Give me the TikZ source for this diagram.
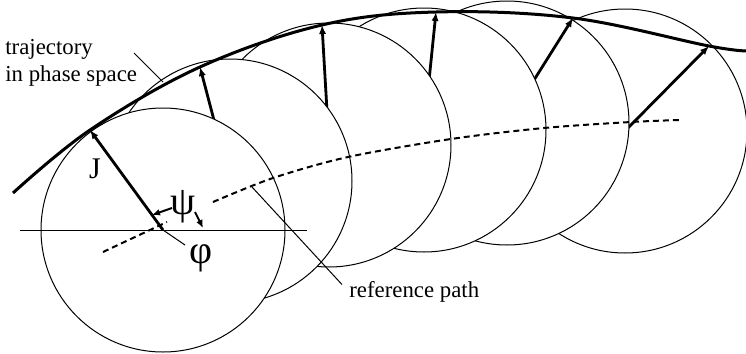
\documentclass[tikz,border=0pt]{standalone}
\usepackage{fontspec}
\setmainfont{Liberation Serif}
\usetikzlibrary{arrows.meta, positioning}

\begin{document}
\begin{tikzpicture}[x=0.5pt, y=-0.5pt,
        ring/.style = {circle, draw=black, line width=0.5pt, fill=white, minimum size=122pt, inner sep=0pt},
        jvec/.style = {line width=1.4pt, -{Latex[length=4.5pt, width=3.6pt]}},
        tick/.style = {line width=1pt, -{Latex[length=4pt, width=3.4pt]}},
        track/.style = {line width=1.5pt},
        refpath/.style = {line width=1pt, dash pattern=on 3pt off 2pt},
        guide/.style = {line width=0.5pt},
        lbl/.style = {font=\rmfamily\fontsize{11.4}{13.5}\selectfont, inner sep=0pt},
        sym/.style = {font=\rmfamily\fontsize{15}{17}\selectfont, inner sep=0pt},
        greek/.style = {font=\rmfamily\fontsize{20}{22}\selectfont, inner sep=0pt}
    ]
    \useasboundingbox (0,0) rectangle (746,354);

    % points where J touches the trajectory
    \coordinate (tip1) at (90,130);
    \coordinate (tip2) at (200,67);
    \coordinate (tip3) at (322,25);
    \coordinate (tip4) at (436,12);
    \coordinate (tip5) at (573,18);
    \coordinate (tip6) at (709,46);

    % circles, right to left so the left ones lie on top
    \node [ring] (ring6) at (625,131) {};
    \draw [jvec] (ring6.center) -- (tip6);
    \node [ring] (ring5) at (507,123) {};
    \draw [jvec] (ring5.center) -- (tip5);
    \node [ring] (ring4) at (424,130) {};
    \draw [jvec] (ring4.center) -- (tip4);
    \node [ring] (ring3) at (329,145) {};
    \draw [jvec] (ring3.center) -- (tip3);
    \node [ring] (ring2) at (230,181) {};
    \draw [jvec] (ring2.center) -- (tip2);
    \node [ring] (ring1) at (163,230) {};
    \draw [jvec] (ring1.center) -- (tip1);

    % axis and angle marks
    \coordinate (axisL) at (20,230);
    \coordinate (axisR) at (307,230);
    \draw [guide] (axisL) -- (axisR);
    \coordinate (phiend) at (185,245);
    \draw [guide] (ring1.center) -- (phiend);

    % trajectory
    \coordinate (trajL) at (13,193);
    \coordinate (trajR) at (748,51);
    \draw [track] plot [smooth, tension=0.6] coordinates {(trajL) (tip1) (tip2) (tip3) (tip4) (tip5) (tip6) (trajR)};

    % reference path
    \draw [refpath] plot [smooth] coordinates {(103,252) (135,237) (167,222)};
    \draw [refpath] plot [smooth] coordinates {(213,202) (273,178) (348,157) (451,139) (544,128) (631,122) (680,120)};

    % labels
    \node [lbl, anchor=north west, align=left] (trajlbl) at (5,39) {trajectory\\in phase space};
    \coordinate (trajfoot) at (134,53);
    \coordinate (trajhit) at (163,82);
    \draw [guide] (trajfoot) -- (trajhit);

    \node [lbl, anchor=base west] (reflbl) at (349,297) {reference path};
    \coordinate (refhit) at (252,187);
    \draw [guide] (refhit) -- ([shift={(-7,4)}]reflbl.north west);

    \node [sym] (jlbl) at (95,169) {J};
    \node [greek] (phi) at (201,258) {φ};
    \node [greek] (psi) at (183,207) {ψ};
    \coordinate (psiL) at (152,215);
    \coordinate (psiR) at (203,228);
    \draw [tick] ([shift={(-11,1)}]psi.center) -- (psiL);
    \draw [tick] ([shift={(12,5)}]psi.center) -- (psiR);
\end{tikzpicture}
\end{document}
